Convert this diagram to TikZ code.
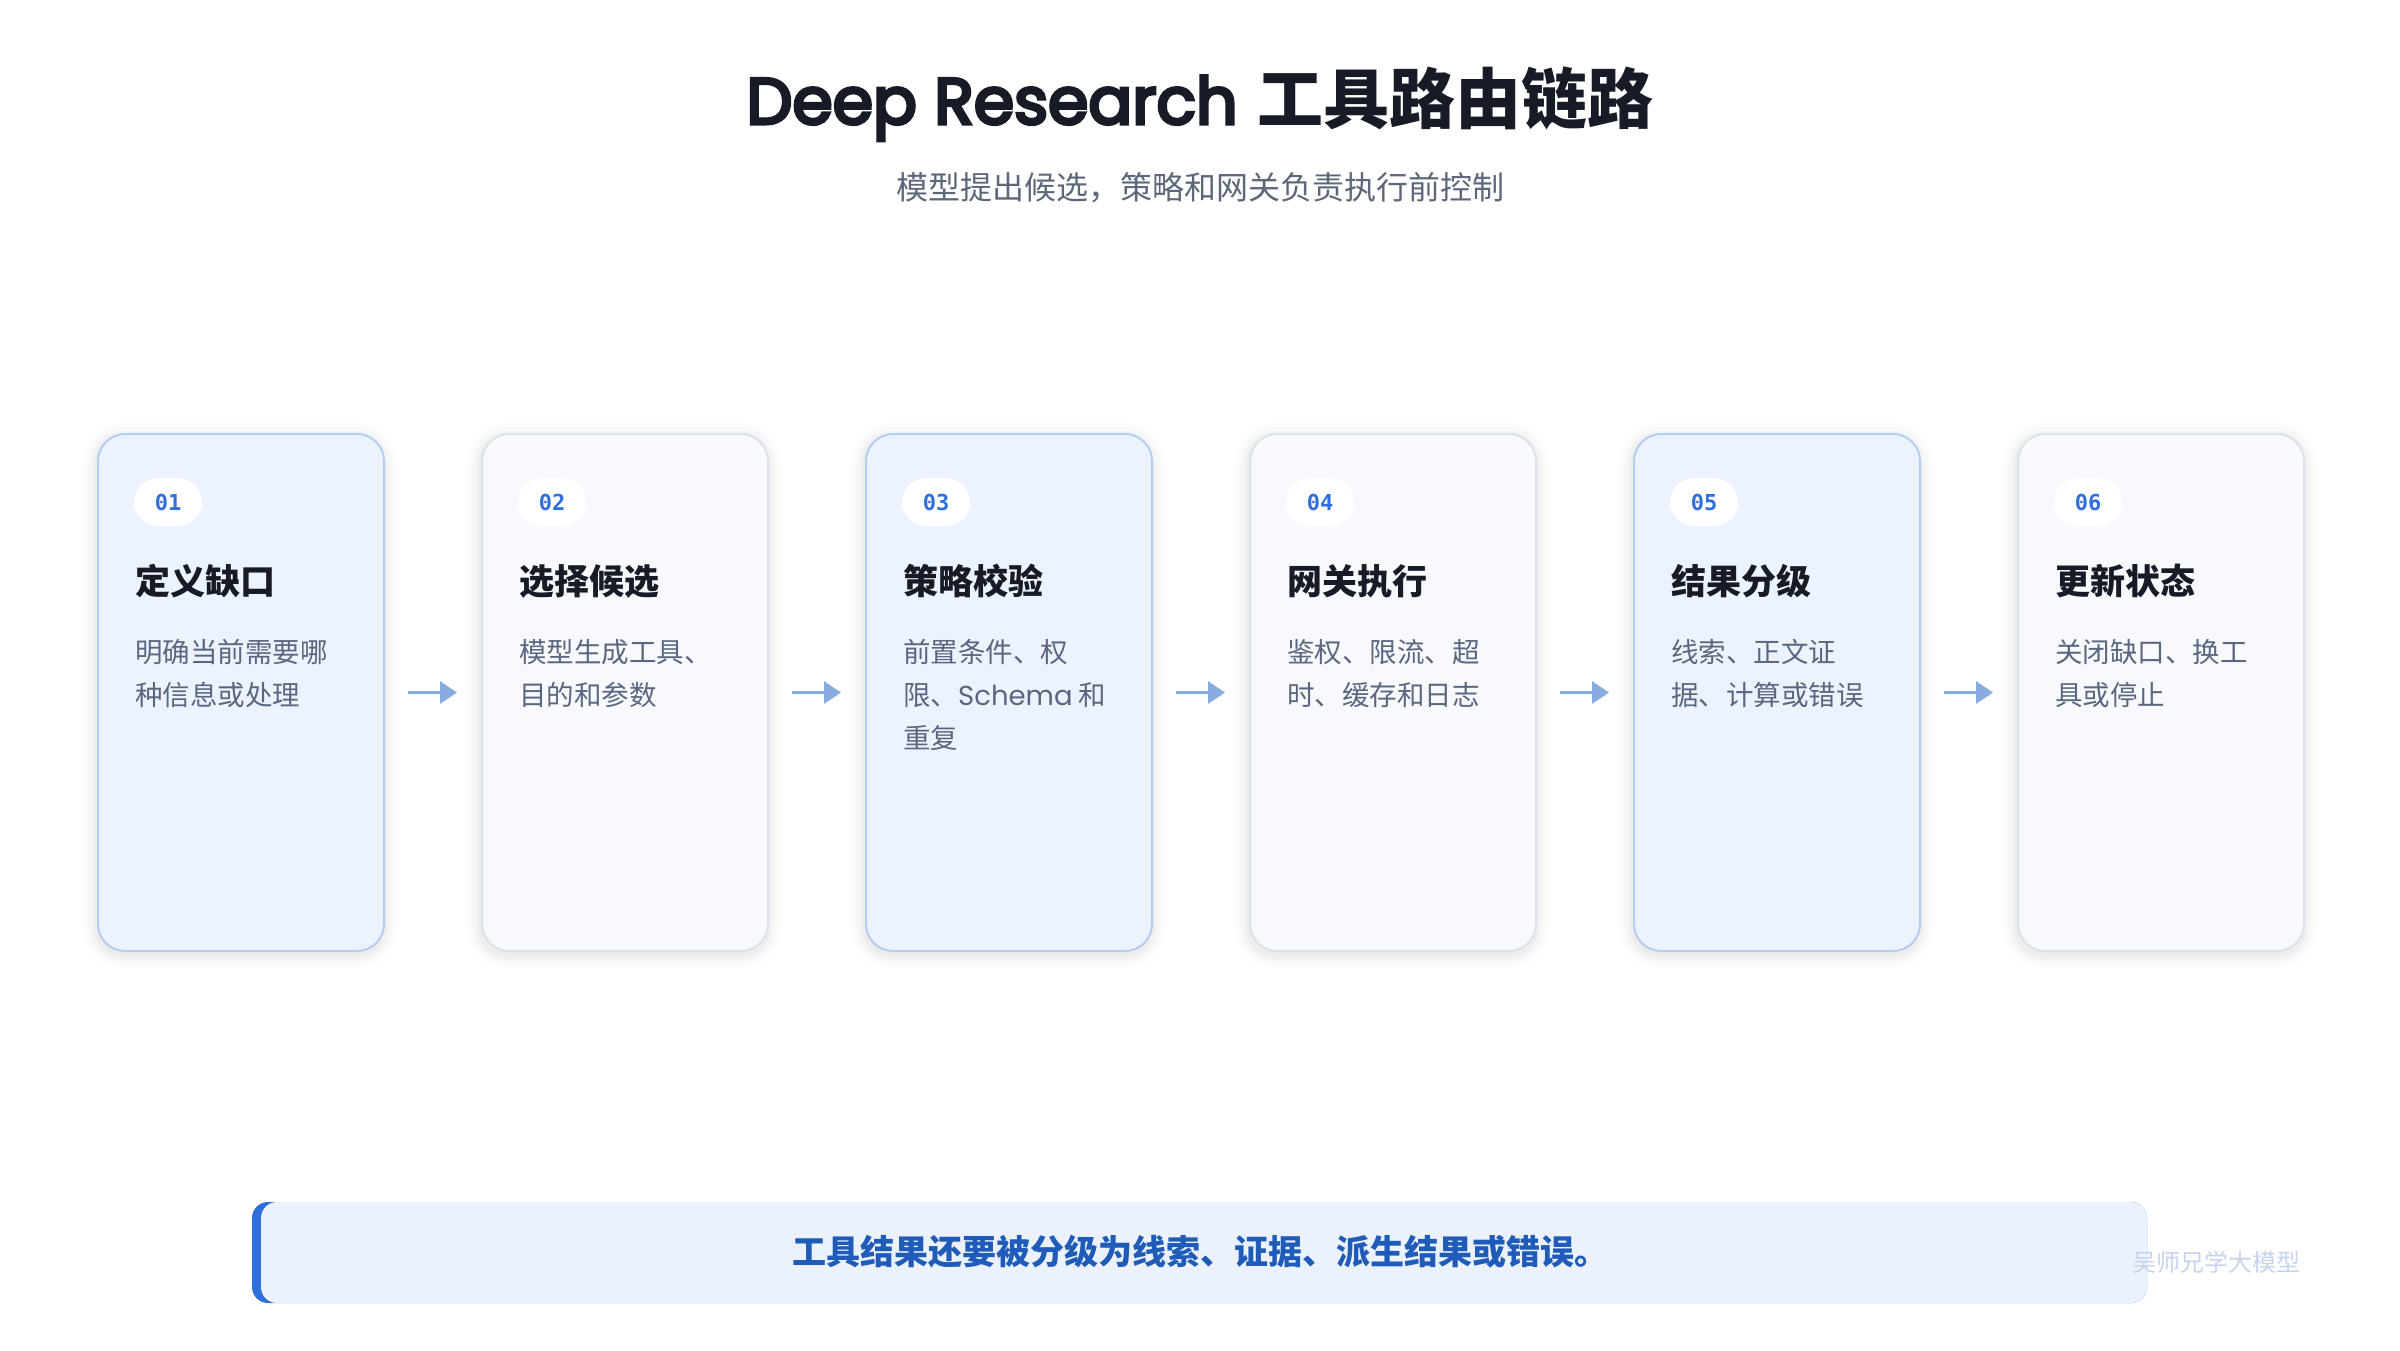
\documentclass[tikz,border=0pt]{standalone}
\usepackage{fontspec}
\setmainfont{Noto Sans CJK SC}
\newfontfamily\cjk{Noto Sans CJK SC}
\newfontfamily\poppins{Poppins}
\newfontfamily\poppinsfb{Poppins}[FakeBold=5]
\newfontfamily\monof{DejaVu Sans Mono}
\usetikzlibrary{arrows.meta}
\definecolor{bluefill}{HTML}{EDF3FE}
\definecolor{bluedraw}{HTML}{B6CDF2}
\definecolor{greyfill}{HTML}{F7F9FC}
\definecolor{greydraw}{HTML}{DCE2EB}
\definecolor{badgetext}{HTML}{2F6FDB}
\definecolor{arrowc}{HTML}{8AABE0}
\definecolor{barfill}{HTML}{EBF2FE}
\definecolor{accent}{HTML}{2F6FDB}
\definecolor{bartext}{HTML}{1F5BB8}
\definecolor{wmark}{HTML}{C6D4EE}
\definecolor{subc}{HTML}{5D677A}
\definecolor{titlec}{HTML}{161B26}
\definecolor{descc}{HTML}{5B6780}
\tikzset{
  cardbase/.style={rounded corners=27pt, line width=2pt, minimum width=286pt, minimum height=517pt, anchor=north west, inner sep=0pt},
  cardblue/.style={cardbase, fill=bluefill, draw=bluedraw},
  cardgrey/.style={cardbase, fill=greyfill, draw=greydraw},
  badge/.style={fill=white, rounded corners=24pt, minimum width=68pt, minimum height=48pt, inner sep=0pt,
    font=\monof\bfseries\fontsize{22}{26}\selectfont, text=badgetext},
  cardtitle/.style={anchor=base west, inner sep=0pt, text=titlec, font=\cjk\bfseries\fontsize{35}{40}\selectfont},
  carddesc/.style={anchor=north west, inner sep=0pt, align=left, text=descc, font=\cjk\fontsize{27.5}{43}\selectfont},
  arr/.style={draw=arrowc, line width=3pt, -{Triangle[length=17pt,width=22pt,fill=arrowc]}},
}
\begin{document}
\begin{tikzpicture}[x=1pt,y=-1pt]
\useasboundingbox (0,0) rectangle (2400,1350);
\fill[white] (0,0) rectangle (2400,1350);
% title
\node[inner sep=0pt, text=titlec] (title) at (1200,104) {{\poppinsfb\fontsize{65}{80}\selectfont Deep Research\hspace{20pt}}{\cjk\bfseries\fontsize{66}{80}\selectfont 工具路由链路}};
\node[inner sep=0pt, text=subc, font=\cjk\fontsize{32}{38}\selectfont] (subtitle) at (1200,188) {模型提出候选，策略和网关负责执行前控制};
% soft card shadows
\foreach \x in {97,481,865,1249,1633,2017}{
  \foreach \s/\o in {14/0.012,10/0.015,6/0.02,3/0.025}{
    \fill[black, opacity=\o, rounded corners=27pt+\s pt] (\x-\s,433-\s+4) rectangle (\x+286+\s,950+\s+4);
  }
}
% cards
\node[cardblue] (c1) at (97,433) {};
\node[cardgrey] (c2) at (481,433) {};
\node[cardblue] (c3) at (865,433) {};
\node[cardgrey] (c4) at (1249,433) {};
\node[cardblue] (c5) at (1633,433) {};
\node[cardgrey] (c6) at (2017,433) {};
% badges
\node[badge] (b1) at (168,502) {01};
\node[badge] (b2) at (552,502) {02};
\node[badge] (b3) at (936,502) {03};
\node[badge] (b4) at (1320,502) {04};
\node[badge] (b5) at (1704,502) {05};
\node[badge] (b6) at (2088,502) {06};
% titles
\node[cardtitle] (t1) at (135,594) {定义缺口};
\node[cardtitle] (t2) at (519,594) {选择候选};
\node[cardtitle] (t3) at (903,594) {策略校验};
\node[cardtitle] (t4) at (1287,594) {网关执行};
\node[cardtitle] (t5) at (1671,594) {结果分级};
\node[cardtitle] (t6) at (2055,594) {更新状态};
% descriptions
\node[carddesc] (d1) at (135,639) {明确当前需要哪\\种信息或处理};
\node[carddesc] (d2) at (519,639) {模型生成工具、\\目的和参数};
\node[carddesc] (d3) at (903,639) {前置条件、权\\限、{\poppins Schema} 和\\重复};
\node[carddesc] (d4) at (1287,639) {鉴权、限流、超\\时、缓存和日志};
\node[carddesc] (d5) at (1671,639) {线索、正文证\\据、计算或错误};
\node[carddesc] (d6) at (2055,639) {关闭缺口、换工\\具或停止};
% arrows
\draw[arr] ([xshift=23pt]c1.east) -- ([xshift=-24pt]c2.west);
\draw[arr] ([xshift=23pt]c2.east) -- ([xshift=-24pt]c3.west);
\draw[arr] ([xshift=23pt]c3.east) -- ([xshift=-24pt]c4.west);
\draw[arr] ([xshift=23pt]c4.east) -- ([xshift=-24pt]c5.west);
\draw[arr] ([xshift=23pt]c5.east) -- ([xshift=-24pt]c6.west);
% bottom bar
\fill[accent, rounded corners=16pt] (252,1202) rectangle (2147,1303);
\fill[barfill, rounded corners=16pt] (261,1202) rectangle (2147,1303);
\node[inner sep=0pt, text=bartext, font=\cjk\bfseries\fontsize{34}{40}\selectfont] (note) at (1200,1252) {工具结果还要被分级为线索、证据、派生结果或错误。};
% watermark
\node[inner sep=0pt, text=wmark, font=\cjk\fontsize{24}{28}\selectfont, anchor=west] (wm) at (2132,1262) {吴师兄学大模型};
\end{tikzpicture}
\end{document}
